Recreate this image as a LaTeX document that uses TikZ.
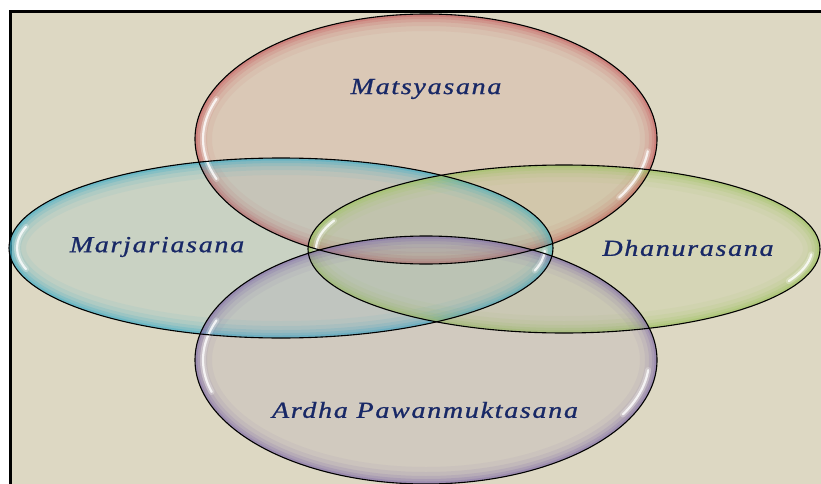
\documentclass[tikz,border=0pt]{standalone}
\usepackage{fontspec}
\usetikzlibrary{positioning}
\newfontfamily\asanafont[LetterSpace=6,FakeBold=0.8]{Liberation Serif}
\definecolor{pagebeige}{RGB}{221,216,195}
\definecolor{asanablue}{RGB}{24,40,102}
\definecolor{rimred}{RGB}{200,100,100}
\definecolor{rimcyan}{RGB}{70,175,200}
\definecolor{rimgreen}{RGB}{160,195,100}
\definecolor{rimpurple}{RGB}{135,115,170}

% glass fill of one ellipse: colour, cx, cy, rx, ry
\newcommand{\glassfill}[5]{%
  \begin{scope}
    \clip (#2,#3) ellipse [x radius=#4pt, y radius=#5pt];
    \fill[#1, fill opacity=.13] (#2,#3) ellipse [x radius=#4pt, y radius=#5pt];
    \foreach \w/\o in {34/.08,24/.12,16/.18,10/.26,5/.4}
      \draw[#1, line width=\w pt, opacity=\o] (#2,#3) ellipse [x radius=#4pt, y radius=#5pt];
  \end{scope}}
% white shine on the rim: cx, cy, rx, ry, from, to
\newcommand{\shine}[6]{%
  \draw[white, line width=6pt, opacity=.25, line cap=round]
    (#1,#2) ++(#5:#3pt and #4pt) arc [start angle=#5, end angle=#6, x radius=#3pt, y radius=#4pt];
  \draw[white, line width=2.2pt, opacity=.8, line cap=round]
    (#1,#2) ++(#5:#3pt and #4pt) arc [start angle=#5, end angle=#6, x radius=#3pt, y radius=#4pt];}

\tikzset{
  asana/.style={font=\asanafont\itshape\fontsize{23}{27}\selectfont, text=asanablue,
    xscale=1.22, transform shape},
  rim/.style={draw=black, line width=1.1pt}
}

\begin{document}
\begin{tikzpicture}[x=1pt,y=-1pt]
    \useasboundingbox (0,0) rectangle (821,484);
    \clip (0,0) rectangle (821,484);

    % Page and frame
    \fill[white] (0,0) rectangle (821,484);
    \fill[pagebeige] (10,12) rectangle (830,490);
    \draw[line width=3pt] (10,495) -- (10,12) -- (830,12);

    % Ellipse fills
    \glassfill{rimred}{426}{139}{231}{125}
    \glassfill{rimcyan}{281}{248}{272}{90}
    \glassfill{rimgreen}{564}{249}{256}{84}
    \glassfill{rimpurple}{426}{360}{231}{124}

    % Shine
    \shine{426}{139}{223}{117}{160}{200}
    \shine{426}{139}{223}{117}{-30}{-6}
    \shine{281}{248}{264}{82}{165}{195}
    \shine{281}{248}{264}{82}{-16}{-2}
    \shine{564}{249}{248}{76}{158}{180}
    \shine{564}{249}{248}{76}{-25}{-4}
    \shine{426}{360}{223}{116}{160}{196}
    \shine{426}{360}{223}{116}{-28}{-5}

    % Outlines
    \draw[rim] (426,139) ellipse [x radius=231pt, y radius=125pt];
    \draw[rim] (281,248) ellipse [x radius=272pt, y radius=90pt];
    \draw[rim] (564,249) ellipse [x radius=256pt, y radius=84pt];
    \draw[rim] (426,360) ellipse [x radius=231pt, y radius=124pt];

    % Labels
    \node[asana] (matsya) at (426,89) {Matsyasana};
    \node[asana] (marjari) at (157,247) {Marjariasana};
    \node[asana] (dhanur) at (688,248) {Dhanurasana};
    \node[asana] (pawan) at (425,410) {Ardha Pawanmuktasana};
\end{tikzpicture}
\end{document}
